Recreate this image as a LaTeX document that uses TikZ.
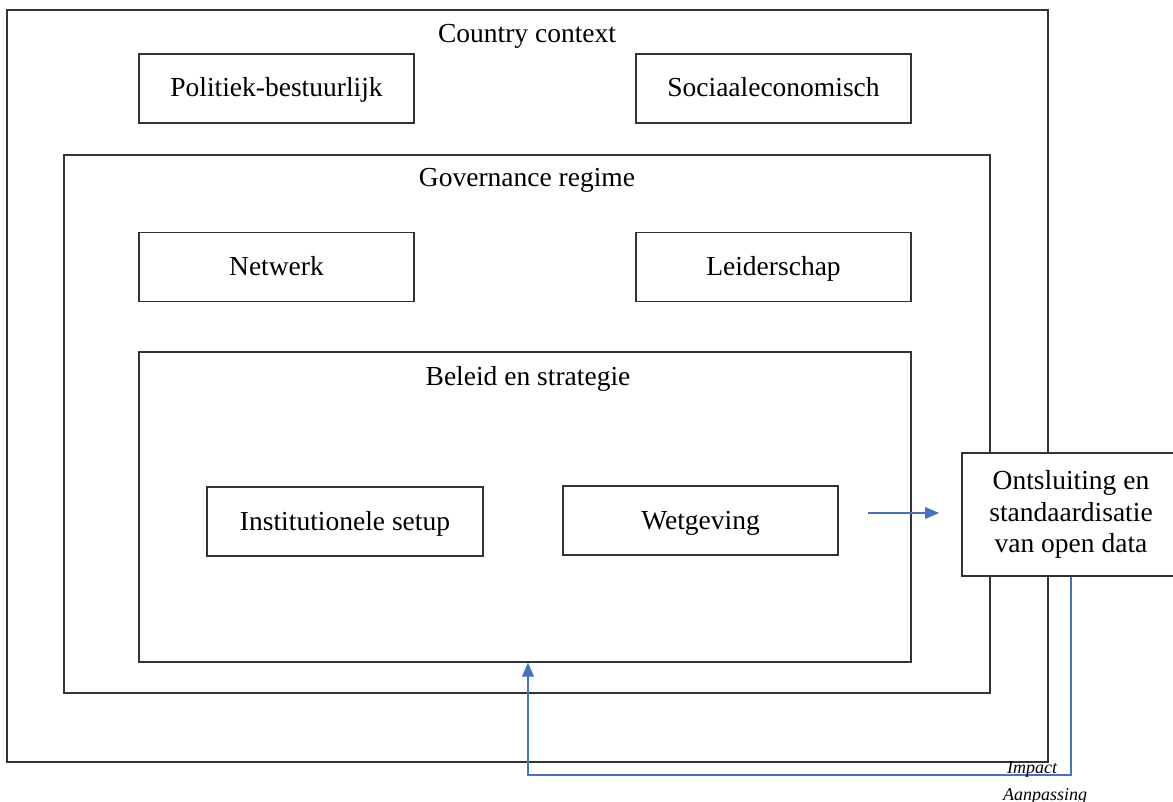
\documentclass[tikz,border=0pt]{standalone}
\usepackage{fontspec}
\setmainfont{Liberation Serif}
\usepackage{tikz}
\usetikzlibrary{arrows,arrows.meta,shapes}
\definecolor{flowblue}{RGB}{68,114,196}
\newcommand{\boxw}{275pt}
\newcommand{\boxh}{69pt}

\begin{document}
\begin{tikzpicture}[x=1pt,y=-1pt]
            \tikzset{frame/.style = {draw=black!80, line width=1.2pt, inner sep=0pt}}
            \tikzset{partbox/.style = {frame, fill=white, minimum width=\boxw, minimum height=\boxh,
                text height=23pt, text depth=6pt, font=\fontsize{27.5}{31.7}\selectfont}}
            \tikzset{caption/.style = {inner sep=0pt, anchor=base, font=\fontsize{27.5}{31.7}\selectfont}}
            \tikzset{flow/.style = {draw=flowblue, line width=1.1pt,
                -{Triangle[length=14pt,width=12pt]}}}
            \tikzset{remark/.style = {inner sep=0pt, anchor=base, font=\fontsize{18}{20}\selectfont\itshape}}
            \useasboundingbox (0,0) rectangle (1173,802);
            % frames
            \node[frame, minimum width=1041pt, minimum height=752pt] (country) at (527.5,386) {};
            \node[frame, minimum width=926pt, minimum height=538pt] (regime) at (527,424) {};
            \node[frame, minimum width=772pt, minimum height=310pt] (beleid) at (525,507) {};
            \node[caption] (countryT) at (527,43) {Country context};
            \node[caption] (regimeT) at (527,187) {Governance regime};
            \node[caption] (beleidT) at (528,385) {Beleid en strategie};
            % boxes
            \node[partbox] (politiek) at (276.5,88.5) {Politiek-bestuurlijk};
            \node[partbox] (sociaal) at (773.5,88.5) {Sociaaleconomisch};
            \node[partbox] (netwerk) at (276.5,267) {Netwerk};
            \node[partbox] (leider) at (773.5,267) {Leiderschap};
            \node[partbox, minimum width=276pt] (instit) at (345,521.5) {Institutionele setup};
            \node[partbox] (wetgeving) at (700.5,520.5) {Wetgeving};
            \node[partbox, minimum width=218pt, minimum height=123pt, align=center,
                text height=, text depth=] (opendata) at (1071,514.5)
                {Ontsluiting en\\standaardisatie\\van open data};
            % arrows
            \coordinate (outA) at (868,513);
            \coordinate (outB) at (939,513);
            \coordinate (bend) at (528,775);
            \draw[flow] (outA) -- (outB);
            \draw[flow] (opendata.south) |- (bend) -- (bend |- beleid.south);
            \node[remark] (impact) at (1032,773) {Impact};
            \node[remark] (aanpassing) at (1045,800) {Aanpassing};
        \end{tikzpicture}
\end{document}
